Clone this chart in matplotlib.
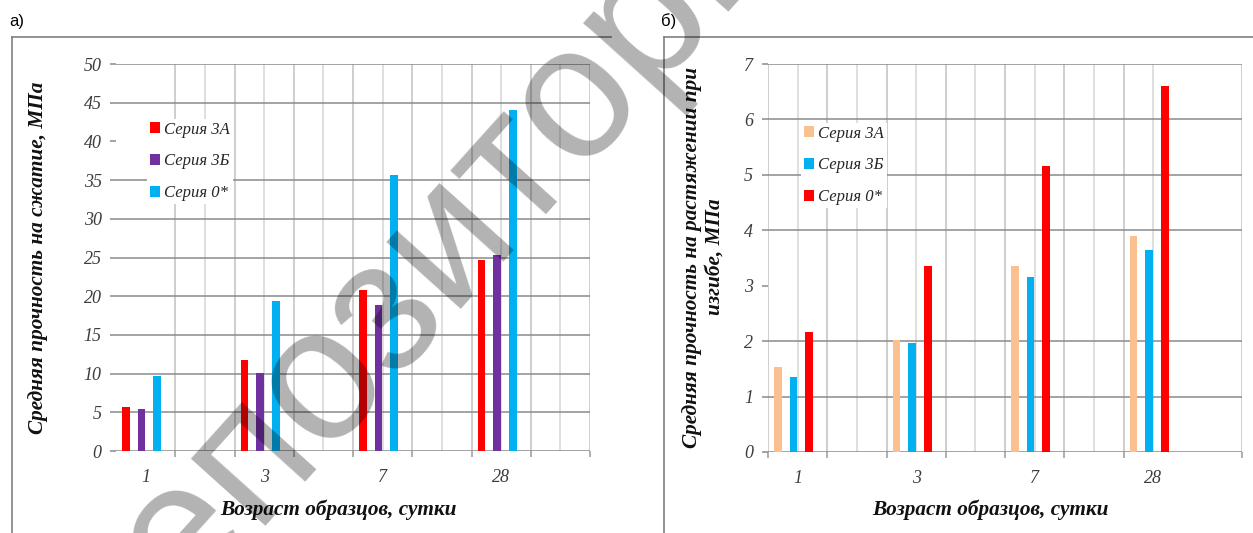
import matplotlib
matplotlib.use("Agg")
import matplotlib.pyplot as plt
from matplotlib.patches import Patch
from matplotlib.lines import Line2D

# ---- data -------------------------------------------------------------
ages = ["1", "3", "7", "28"]
series_names = ["Серия 3А", "Серия 3Б", "Серия 0*"]

# compressive strength, MPa
comp_3A = [5.7, 11.75, 20.85, 24.7]
comp_3B = [5.45, 10.1, 18.9, 25.3]
comp_0 = [9.7, 19.35, 35.6, 44.05]

# flexural tensile strength, MPa
bend_3A = [1.53, 2.02, 3.35, 3.89]
bend_3B = [1.35, 1.97, 3.16, 3.65]
bend_0 = [2.16, 3.36, 5.16, 6.61]

colors_comp = ["#ff0000", "#7030a0", "#00b0f0"]
colors_bend = ["#fac090", "#00b0f0", "#ff0000"]

W, H = 1253, 533
DPI = 100
fig = plt.figure(figsize=(W / DPI, H / DPI), dpi=DPI)
fig.patch.set_facecolor("white")


def fx(x):
    return x / W


def fy(y):
    return 1 - y / H


SERIF = "Liberation Serif"
SANS = "Liberation Sans"
GRID_H = "#8a8a8a"
GRID_V_EDGE = "#c6c6c6"
GRID_V_MID = "#d9d9d9"
TICK_TXT = "#3c3c3c"


def draw_panel(ax, series, colors, ymax, ystep, skip_h, skip_v, skip_xticks,
               ytick_pad):
    n_slots = 8                      # every age is followed by an empty slot
    ax.set_xlim(0, n_slots)
    ax.set_ylim(0, ymax)
    for s in ax.spines.values():
        s.set_visible(False)

    # gridlines
    yvals = [v * ystep for v in range(int(round(ymax / ystep)) + 1)]
    for v in yvals:
        if v in skip_h:
            continue
        ax.axhline(v, color=GRID_H, lw=1.1, zorder=1)
    for k in range(2 * n_slots + 1):
        xv = k / 2
        if xv in skip_v:
            continue
        ax.axvline(xv, color=GRID_V_EDGE if k % 2 == 0 else GRID_V_MID,
                   lw=1.2, zorder=0.5)

    # bars: three series per age, placed in slots 0, 2, 4, 6
    width = 0.13
    offsets = [-0.333, -0.068, 0.197]
    centers = [2 * i + 0.5 for i in range(len(ages))]
    for vals, col, off in zip(series, colors, offsets):
        ax.bar([c + off for c in centers], vals, width=width, color=col,
               zorder=3, linewidth=0)

    # y axis
    ax.set_yticks(yvals)
    ax.set_yticklabels([f"{v:g}" for v in yvals], fontfamily=SERIF,
                       fontstyle="italic", fontsize=13, color=TICK_TXT)
    ax.tick_params(axis="y", direction="out", length=4.3, width=1.1,
                   color=GRID_H, pad=ytick_pad)

    # x axis: boundary ticks (major) and age labels (minor)
    xt = [k for k in range(n_slots + 1) if k not in skip_xticks]
    ax.set_xticks(xt)
    ax.set_xticklabels([""] * len(xt))
    ax.tick_params(axis="x", which="major", direction="out", length=4,
                   width=1.1, color="#9a9a9a")
    ax.set_xticks(centers, minor=True)
    ax.set_xticklabels(ages, minor=True, fontfamily=SERIF,
                       fontstyle="italic", fontsize=13, color=TICK_TXT)
    ax.tick_params(axis="x", which="minor", length=0, pad=13)


# ---- panel a) ---------------------------------------------------------
ax1 = fig.add_axes([fx(116), fy(451), fx(590) - fx(116), fy(64) - fy(451)])
draw_panel(ax1, [comp_3A, comp_3B, comp_0], colors_comp, 50, 5,
           skip_h={40}, skip_v={0, 0.5}, skip_xticks={0}, ytick_pad=6)

# ---- panel б) ---------------------------------------------------------
ax2 = fig.add_axes([fx(768), fy(452), fx(1242) - fx(768), fy(64) - fy(452)])
draw_panel(ax2, [bend_3A, bend_3B, bend_0], colors_bend, 7, 1,
           skip_h={3}, skip_v={7, 7.5}, skip_xticks={7}, ytick_pad=6.5)


# legends
def add_legend(colors, x, y):
    handles = [Patch(facecolor=c, edgecolor="none") for c in colors]
    leg = fig.legend(handles, series_names, loc="upper left",
                     bbox_to_anchor=(fx(x), fy(y)),
                     bbox_transform=fig.transFigure,
                     frameon=True, facecolor="white", edgecolor="none",
                     framealpha=1, fancybox=False,
                     prop={"family": SERIF, "style": "italic", "size": 12},
                     handlelength=0.6, handleheight=0.6,
                     handletextpad=0.3, labelspacing=0.95,
                     borderpad=0.15, borderaxespad=0)
    for t in leg.get_texts():
        t.set_color("#262626")
    leg.set_zorder(20)
    return leg


add_legend(colors_comp, 147, 119)
add_legend(colors_bend, 801, 123)

# axis titles
title_font = dict(fontfamily=SERIF, fontstyle="italic", fontweight="bold",
                  fontsize=15.3, color="#111111")
fig.text(fx(338), fy(510), "Возраст образцов, сутки", ha="center",
         va="center", **title_font)
fig.text(fx(990), fy(510), "Возраст образцов, сутки", ha="center",
         va="center", **title_font)
fig.text(fx(38), fy(258), "Средняя прочность на сжатие, МПа", ha="center",
         va="center", rotation=90, **title_font)
fig.text(fx(703), fy(257),
         "Средняя прочность на растяжении при\nизгибе, МПа",
         ha="center", va="center", rotation=90, multialignment="center",
         linespacing=1.2, **title_font)

# panel letters
fig.text(fx(9), fy(26), "а)", fontfamily=SANS, fontsize=12, color="black",
         ha="left", va="baseline")
fig.text(fx(661), fy(26), "б)", fontfamily=SANS, fontsize=12, color="black",
         ha="left", va="baseline")

# frames around the two panels
frame = dict(color="#808080", lw=1.2, transform=fig.transFigure, zorder=5)
fig.add_artist(Line2D([fx(12), fx(611)], [fy(36.5), fy(36.5)], **frame))
fig.add_artist(Line2D([fx(12), fx(12)], [fy(36.5), fy(H)], **frame))
fig.add_artist(Line2D([fx(664), fx(W)], [fy(36.5), fy(36.5)], **frame))
fig.add_artist(Line2D([fx(664), fx(664)], [fy(36.5), fy(H)], **frame))

# repository watermark
fig.text(fx(104), fy(689), "Репозиторий", rotation=48, rotation_mode="anchor",
         ha="left", va="baseline", fontfamily=SANS, fontsize=136,
         color="black", alpha=0.3, zorder=100)

fig.savefig("out.png", dpi=DPI)
